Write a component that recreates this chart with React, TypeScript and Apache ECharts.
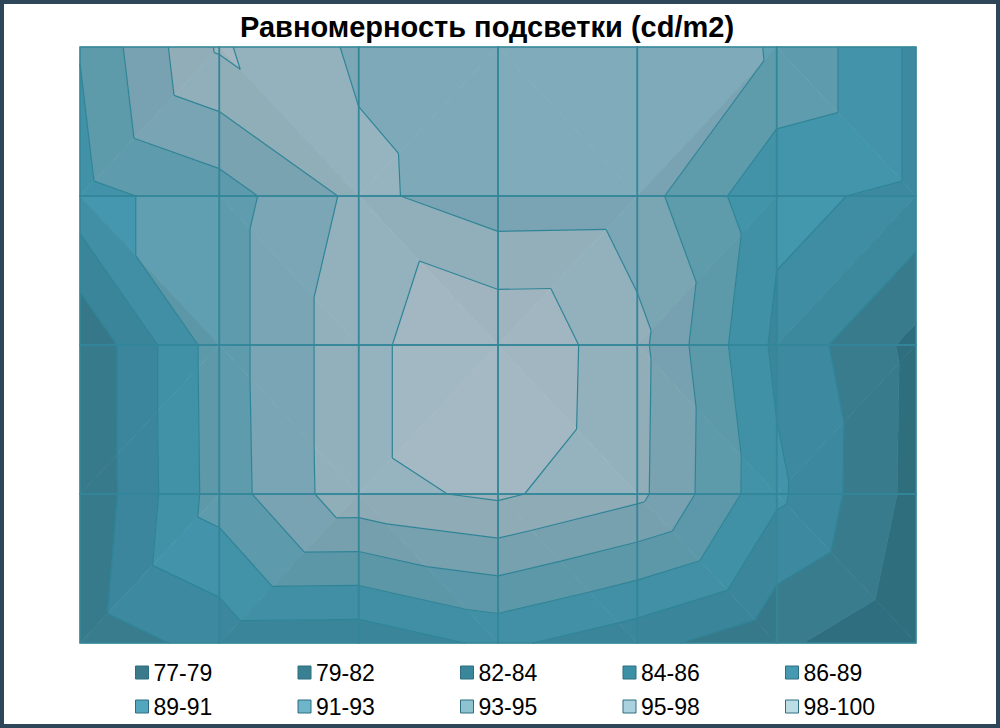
import React, { useEffect, useRef } from "react";
import * as echarts from "echarts";

// Grid values (rows top -> bottom, columns left -> right), cd/m2
const row1 = [86.3, 93.4, 90.4, 89.3, 89.4, 88.4, 83.4];
const row2 = [85.4, 87.4, 91.4, 89.4, 89.5, 84.4, 83.4];
const row3 = [79.5, 87.4, 92.4, 95.3, 91.5, 83.4, 78.6];
const row4 = [79.5, 87.3, 92.4, 93.5, 91.4, 84.4, 78.5];
const row5 = [80.2, 82.4, 82.3, 84.4, 82.4, 79.8, 77.2];
const rows = [row1, row2, row3, row4, row5];

// Value axis of the surface (bands)
const scaleMin = 77;
const majorUnit = 2.3;
const bandLabels = ["77-79", "79-82", "82-84", "84-86", "86-89", "89-91", "91-93", "93-95", "95-98", "98-100"];

const legendColors = ["#3b7a8a", "#3a8093", "#3a879c", "#3c90a6", "#4599b0", "#52a7bf", "#6fb5c9", "#8dc3d1", "#a9d2de", "#bcdde6"];
const plotColors = ["#2f6f7f", "#387d8f", "#3d8aa0", "#4395ab", "#5f9dae", "#7ba6b5", "#93b1bc", "#a1b6c0", "#afc1c9", "#bdccd2"];

const lineColor = "#2e8497";
const gridColor = "#338799";

type Pt = { x: number; y: number; v: number };

function hexToRgb(h: string) {
  const n = parseInt(h.slice(1), 16);
  return [(n >> 16) & 255, (n >> 8) & 255, n & 255];
}
function shadeColor(h: string, f: number) {
  const [r, g, b] = hexToRgb(h);
  const c = (x: number) => Math.max(0, Math.min(255, Math.round(x * f)));
  return `rgb(${c(r)},${c(g)},${c(b)})`;
}

function cellTriangles(api: any, c: number, r: number): Pt[][] {
  const P = (cc: number, rr: number): Pt => {
    const p = api.coord([cc, rr]);
    return { x: p[0], y: p[1], v: rows[rr][cc] };
  };
  const tl = P(c, r), tr = P(c + 1, r), bl = P(c, r + 1), br = P(c + 1, r + 1);
  if (tl.v + br.v >= tr.v + bl.v) return [[tl, tr, br], [tl, br, bl]];
  return [[tl, tr, bl], [tr, br, bl]];
}

function clipPoly(pts: Pt[], lvl: number, keepAbove: boolean): Pt[] {
  const out: Pt[] = [];
  const n = pts.length;
  for (let i = 0; i < n; i++) {
    const a = pts[i], b = pts[(i + 1) % n];
    const ina = keepAbove ? a.v >= lvl : a.v <= lvl;
    const inb = keepAbove ? b.v >= lvl : b.v <= lvl;
    if (ina) out.push(a);
    if (ina !== inb) {
      const t = (lvl - a.v) / (b.v - a.v);
      out.push({ x: a.x + t * (b.x - a.x), y: a.y + t * (b.y - a.y), v: lvl });
    }
  }
  return out;
}

function triShade(t: Pt[]) {
  const [p1, p2, p3] = t;
  const det = (p2.x - p1.x) * (p3.y - p1.y) - (p3.x - p1.x) * (p2.y - p1.y);
  const gx = ((p2.v - p1.v) * (p3.y - p1.y) - (p3.v - p1.v) * (p2.y - p1.y)) / det;
  const gy = ((p2.x - p1.x) * (p3.v - p1.v) - (p3.x - p1.x) * (p2.v - p1.v)) / det;
  const g = Math.sqrt(gx * gx + gy * gy);
  return Math.max(0.95, Math.min(1.03, 1 + 1.0 * (0.03 - g)));
}

const nBands = bandLabels.length;
// contour lines drawn from the second band edge upward
const levels: number[] = [];
for (let k = 2; k < nBands; k++) levels.push(scaleMin + majorUnit * k);

const cells: number[][] = [];
for (let r = 0; r < rows.length - 1; r++) for (let c = 0; c < row1.length - 1; c++) cells.push([c, r]);

function renderFill(params: any, api: any) {
  const c = api.value(0), r = api.value(1);
  const children: any[] = [];
  for (const tri of cellTriangles(api, c, r)) {
    const f = triShade(tri);
    for (let k = 0; k < nBands; k++) {
      let poly: Pt[] = tri;
      if (k > 0) poly = clipPoly(poly, scaleMin + majorUnit * k, true);
      if (poly.length >= 3 && k < nBands - 1) poly = clipPoly(poly, scaleMin + majorUnit * (k + 1), false);
      if (poly.length >= 3) {
        const col = shadeColor(plotColors[k], f);
        children.push({
          type: "polygon",
          shape: { points: poly.map((p) => [p.x, p.y]) },
          style: { fill: col, stroke: col, lineWidth: 0.7 },
        });
      }
    }
  }
  return { type: "group", children };
}

function renderLines(params: any, api: any) {
  const c = api.value(0), r = api.value(1);
  const children: any[] = [];
  for (const tri of cellTriangles(api, c, r)) {
    for (const L of levels) {
      const pts: number[][] = [];
      for (let i = 0; i < 3; i++) {
        const a = tri[i], b = tri[(i + 1) % 3];
        if ((a.v - L) * (b.v - L) < 0) {
          const t = (L - a.v) / (b.v - a.v);
          pts.push([a.x + t * (b.x - a.x), a.y + t * (b.y - a.y)]);
        }
      }
      if (pts.length === 2) {
        children.push({
          type: "line",
          shape: { x1: pts[0][0], y1: pts[0][1], x2: pts[1][0], y2: pts[1][1] },
          style: { stroke: lineColor, lineWidth: 1.2 },
        });
      }
    }
  }
  const a = api.coord([c, r]);
  const b = api.coord([c + 1, r + 1]);
  children.push({
    type: "rect",
    shape: { x: a[0], y: a[1], width: b[0] - a[0], height: b[1] - a[1] },
    style: { fill: "none", stroke: gridColor, lineWidth: 1.5 },
  });
  return { type: "group", children };
}

export default function App() {
  const ref = useRef<HTMLDivElement>(null);
  useEffect(() => {
    document.body.style.margin = "0";
    const chart = echarts.init(ref.current!, null, { renderer: "svg" });
    const legendSeries = bandLabels.map((name, i) => ({
      type: "scatter",
      name,
      data: [],
      itemStyle: { color: legendColors[i], opacity: 1 },
    }));
    chart.setOption({
      animation: false,
      backgroundColor: "#ffffff",
      title: {
        text: "Равномерность подсветки (cd/m2)",
        left: 235,
        top: 7,
        textStyle: { fontSize: 29, fontWeight: "bold", fontFamily: "Liberation Sans, Arial, sans-serif", color: "#000" },
      },
      grid: { left: 80, right: 84, top: 47, bottom: 85 },
      xAxis: { type: "value", min: 0, max: row1.length - 1, interval: 1, show: false },
      yAxis: { type: "value", min: 0, max: rows.length - 1, interval: 1, inverse: true, show: false },
      legend: {
        left: 135,
        top: 658,
        width: 830,
        padding: 0,
        itemWidth: 13,
        itemHeight: 13,
        itemGap: 5,
        icon: "rect",
        selectedMode: false,
        textStyle: {
          fontSize: 23,
          fontFamily: "Liberation Sans, Arial, sans-serif",
          color: "#000",
          width: 139,
          lineHeight: 29,
        },
        data: bandLabels.map((name, i) => ({
          name,
          itemStyle: { color: legendColors[i], borderColor: "#2f6e80", borderWidth: 1, opacity: 1 },
        })),
      },
      graphic: [
        {
          type: "rect",
          shape: { x: 2, y: 2, width: 996, height: 724 },
          style: { fill: "none", stroke: "#2d4659", lineWidth: 4 },
          z: 100,
        },
      ],
      series: [
        { type: "custom", name: "fill", renderItem: renderFill, data: cells, z: 2, silent: true },
        { type: "custom", name: "lines", renderItem: renderLines, data: cells, z: 3, silent: true },
        ...legendSeries,
      ],
    });
    return () => chart.dispose();
  }, []);
  return (
    <div
      ref={ref}
      style={{ position: "fixed", left: 0, top: 0, width: 1000, height: 728, background: "#fff" }}
    />
  );
}
